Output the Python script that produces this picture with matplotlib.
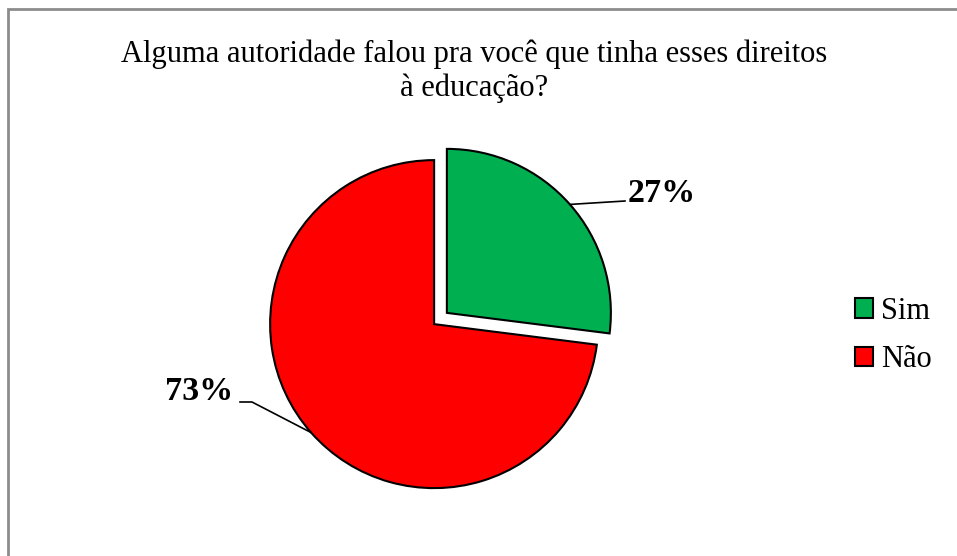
import numpy as np
import matplotlib
matplotlib.use("Agg")
import matplotlib.pyplot as plt
from matplotlib.patches import Rectangle

plt.rcParams['font.family'] = ['Liberation Serif', 'DejaVu Serif']

# Data
title = "Alguma autoridade falou pra você que tinha esses direitos\nà educação?"
labels = ["Sim", "Não"]
values = [27, 73]
colors = ["#00B050", "#FF0000"]
pct_labels = ["27%", "73%"]

W, H = 957, 556
fig = plt.figure(figsize=(W / 100, H / 100), dpi=100)
ax = fig.add_axes([0, 0, 1, 1])

cx, cy, r = 440.5, H - 318.5, 164
# explode is in data units here (pixels)
wedges, _ = ax.pie(values, colors=colors, startangle=90, counterclock=False,
                   explode=[8.5, 8.5], radius=r, center=(cx, cy),
                   wedgeprops=dict(edgecolor='black', linewidth=1.5))

# pie() resets the limits, so set them afterwards
ax.set_xlim(0, W)
ax.set_ylim(0, H)
ax.set_aspect('equal')
ax.axis('off')

# outer chart border (only left/top visible in the crop)
ax.add_patch(Rectangle((8, -20), W + 40, H - 9 + 20, fill=False,
                       edgecolor='#8c8c8c', lw=2))

# data labels with leader lines
text_pos = [(628, H - 193, 'left'), (233, H - 392, 'right')]
elbows = [[(625, H - 201)], [(252, H - 402), (240, H - 402)]]
for w, lab, (tx, ty, ha), elb in zip(wedges, pct_labels, text_pos, elbows):
    mid = np.deg2rad((w.theta1 + w.theta2) / 2)
    wx, wy = w.center
    ax_pt = (wx + w.r * np.cos(mid), wy + w.r * np.sin(mid))
    pts = [ax_pt] + elb
    ax.plot([p[0] for p in pts], [p[1] for p in pts], color='black', lw=1.2)
    ax.text(tx, ty, lab, ha=ha, va='center', fontsize=24.5, fontweight='bold')

ax.text(474, H - 71.5, title, ha='center', va='center', fontsize=22,
        linespacing=1.2)

fig.legend(wedges, labels, loc='center left',
           bbox_to_anchor=(855 / W, (H - 335.5) / H), frameon=False,
           fontsize=22, handlelength=0.6, handleheight=0.6,
           handletextpad=0.25, labelspacing=0.65, borderpad=0,
           borderaxespad=0)

fig.savefig("out.png", dpi=100)
